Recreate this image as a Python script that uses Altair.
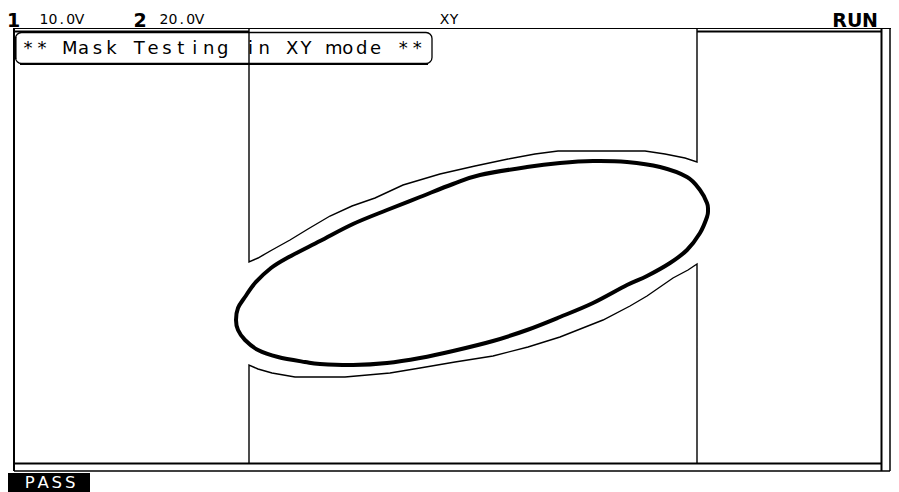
import altair as alt
import pandas as pd

# ---------------- data (scope display raster units: x 0..867 left->right, y 0..434 bottom->top)
ELLIPSE_X = [222, 224, 231, 241, 257, 273, 306, 339, 373, 406, 439, 466, 513, 546, 579, 613, 646,
             673, 686, 693, 694, 693, 686, 673, 656, 633, 613, 579, 546, 513, 479, 439, 406, 373,
             339, 306, 291, 264, 244, 231, 224]
ELLIPSE_Y = [143, 155, 166, 180, 195, 205, 222, 239, 253, 266, 279, 288, 296, 300, 302, 301, 296,
             286, 273, 260, 253, 246, 230, 213, 200, 187, 178, 160, 146, 133, 122, 112, 105, 100,
             98, 99, 101, 106, 113, 123, 133]

UPPER_X = [235, 235, 244, 258, 276, 294, 316, 338, 361, 389, 426, 461, 494, 521, 544, 631, 651, 671, 683, 683]
UPPER_Y = [434, 201, 205, 213, 223, 234, 247, 257, 265, 278, 289, 297, 304, 309, 312, 312, 309, 305, 301, 434]

LOWER_X = [235, 235, 244, 258, 281, 331, 376, 406, 441, 479, 514, 546, 589, 616, 633, 659, 674, 683, 683]
LOWER_Y = [0, 98, 94, 90, 86, 86, 90, 95, 101, 107, 116, 126, 143, 157, 167, 185, 193, 199, 0]

TITLE = "** Mask Testing in XY mode **"
CH1_NUM, CH1_SCALE = "1", "10.0V"
CH2_NUM, CH2_SCALE = "2", "20.0V"
MODE = "XY"
STATE = "RUN"
RESULT = "PASS"

# ---------------- layout
W, H = 867, 434
OX, OY = 14, 29          # screen position of plot origin (8px page margin + padding)
XS = alt.Scale(domain=[0, W], nice=False, zero=False)
YS = alt.Scale(domain=[0, H], nice=False, zero=False)
one = pd.DataFrame({"k": [0]})


def hline(x1, x2, y, w=1.2):
    return alt.Chart(one).mark_rule(color="black", strokeWidth=w).encode(
        x=alt.value(x1 - OX), x2=alt.value(x2 - OX), y=alt.value(y - OY))


def vline(x, y1, y2, w=1.2):
    return alt.Chart(one).mark_rule(color="black", strokeWidth=w).encode(
        x=alt.value(x - OX), y=alt.value(y1 - OY), y2=alt.value(y2 - OY))


def spaced(text, first_center, step, baseline, size, bold=False, color="black"):
    df = pd.DataFrame({"ch": list(text)})
    return (
        alt.Chart(df)
        .transform_window(i="row_number()")
        .transform_calculate(px=f"{first_center - OX} + {step} * (datum.i - 1)")
        .mark_text(align="center", baseline="alphabetic", fontSize=size,
                   fontWeight="bold" if bold else "normal", font="DejaVu Sans", color=color)
        .encode(x=alt.X("px:Q", scale=None), y=alt.value(baseline - OY), text="ch:N")
    )


ell = pd.DataFrame({"x": ELLIPSE_X, "y": ELLIPSE_Y, "i": range(len(ELLIPSE_X))})
mask = pd.concat([
    pd.DataFrame({"x": UPPER_X, "y": UPPER_Y, "i": range(len(UPPER_X)), "part": "upper"}),
    pd.DataFrame({"x": LOWER_X, "y": LOWER_Y, "i": range(len(LOWER_X)), "part": "lower"}),
])

mask_lines = alt.Chart(mask).mark_line(color="black", strokeWidth=1.4).encode(
    x=alt.X("x:Q", scale=XS, axis=None),
    y=alt.Y("y:Q", scale=YS, axis=None),
    detail="part:N",
    order="i:Q",
)

trace = alt.Chart(ell).mark_line(color="black", strokeWidth=4, interpolate="cardinal-closed").encode(
    x=alt.X("x:Q", scale=XS, axis=None),
    y=alt.Y("y:Q", scale=YS, axis=None),
    order="i:Q",
)

title_box = alt.Chart(one).mark_rect(fill="white", fillOpacity=0, stroke="black", strokeWidth=1.3,
                                     cornerRadius=6).encode(
    x=alt.value(15.5 - OX), x2=alt.value(432 - OX), y=alt.value(32.5 - OY), y2=alt.value(63.5 - OY))

pass_box = alt.Chart(one).mark_rect(color="black").encode(
    x=alt.value(8 - OX), x2=alt.value(90 - OX), y=alt.value(473 - OY), y2=alt.value(492 - OY))

layers = [
    hline(13, 899, 28.5, 1.2),
    hline(14, 249, 31.5, 2),
    hline(697, 881, 31.5, 2),
    vline(14, 29, 471, 2),
    hline(14, 881, 463.5, 2),
    hline(14, 890, 471, 1.5),
    vline(881.5, 29, 471, 2),
    vline(890, 29, 471, 1.5),
    mask_lines,
    trace,
    title_box,
    hline(20, 428, 64, 2),
    vline(15.5, 37, 59, 2),
    pass_box,
    spaced(CH1_NUM, 13.5, 0, 26.5, 19, bold=True),
    spaced(CH1_SCALE, 44, 8.9, 24, 14),
    spaced(CH2_NUM, 140, 0, 26.5, 19, bold=True),
    spaced(CH2_SCALE, 164, 8.9, 24, 14),
    spaced(MODE, 444.5, 9.5, 24, 14),
    spaced(STATE, 839.5, 15.2, 26.5, 19, bold=True),
    spaced(TITLE, 28, 13.9, 54, 18),
    spaced(RESULT, 29.75, 13.5, 488, 16.5, color="white"),
]

chart = (
    alt.layer(*layers)
    .resolve_scale(x="independent", y="independent")
    .properties(
        width=W, height=H,
        autosize=alt.AutoSizeParams(type="none"),
        padding={"left": 6, "top": 21, "right": 10, "bottom": 29},
        background="white",
    )
    .configure_view(stroke=None)
)

chart.save("out.html", embed_options={"renderer": "svg", "actions": False})
